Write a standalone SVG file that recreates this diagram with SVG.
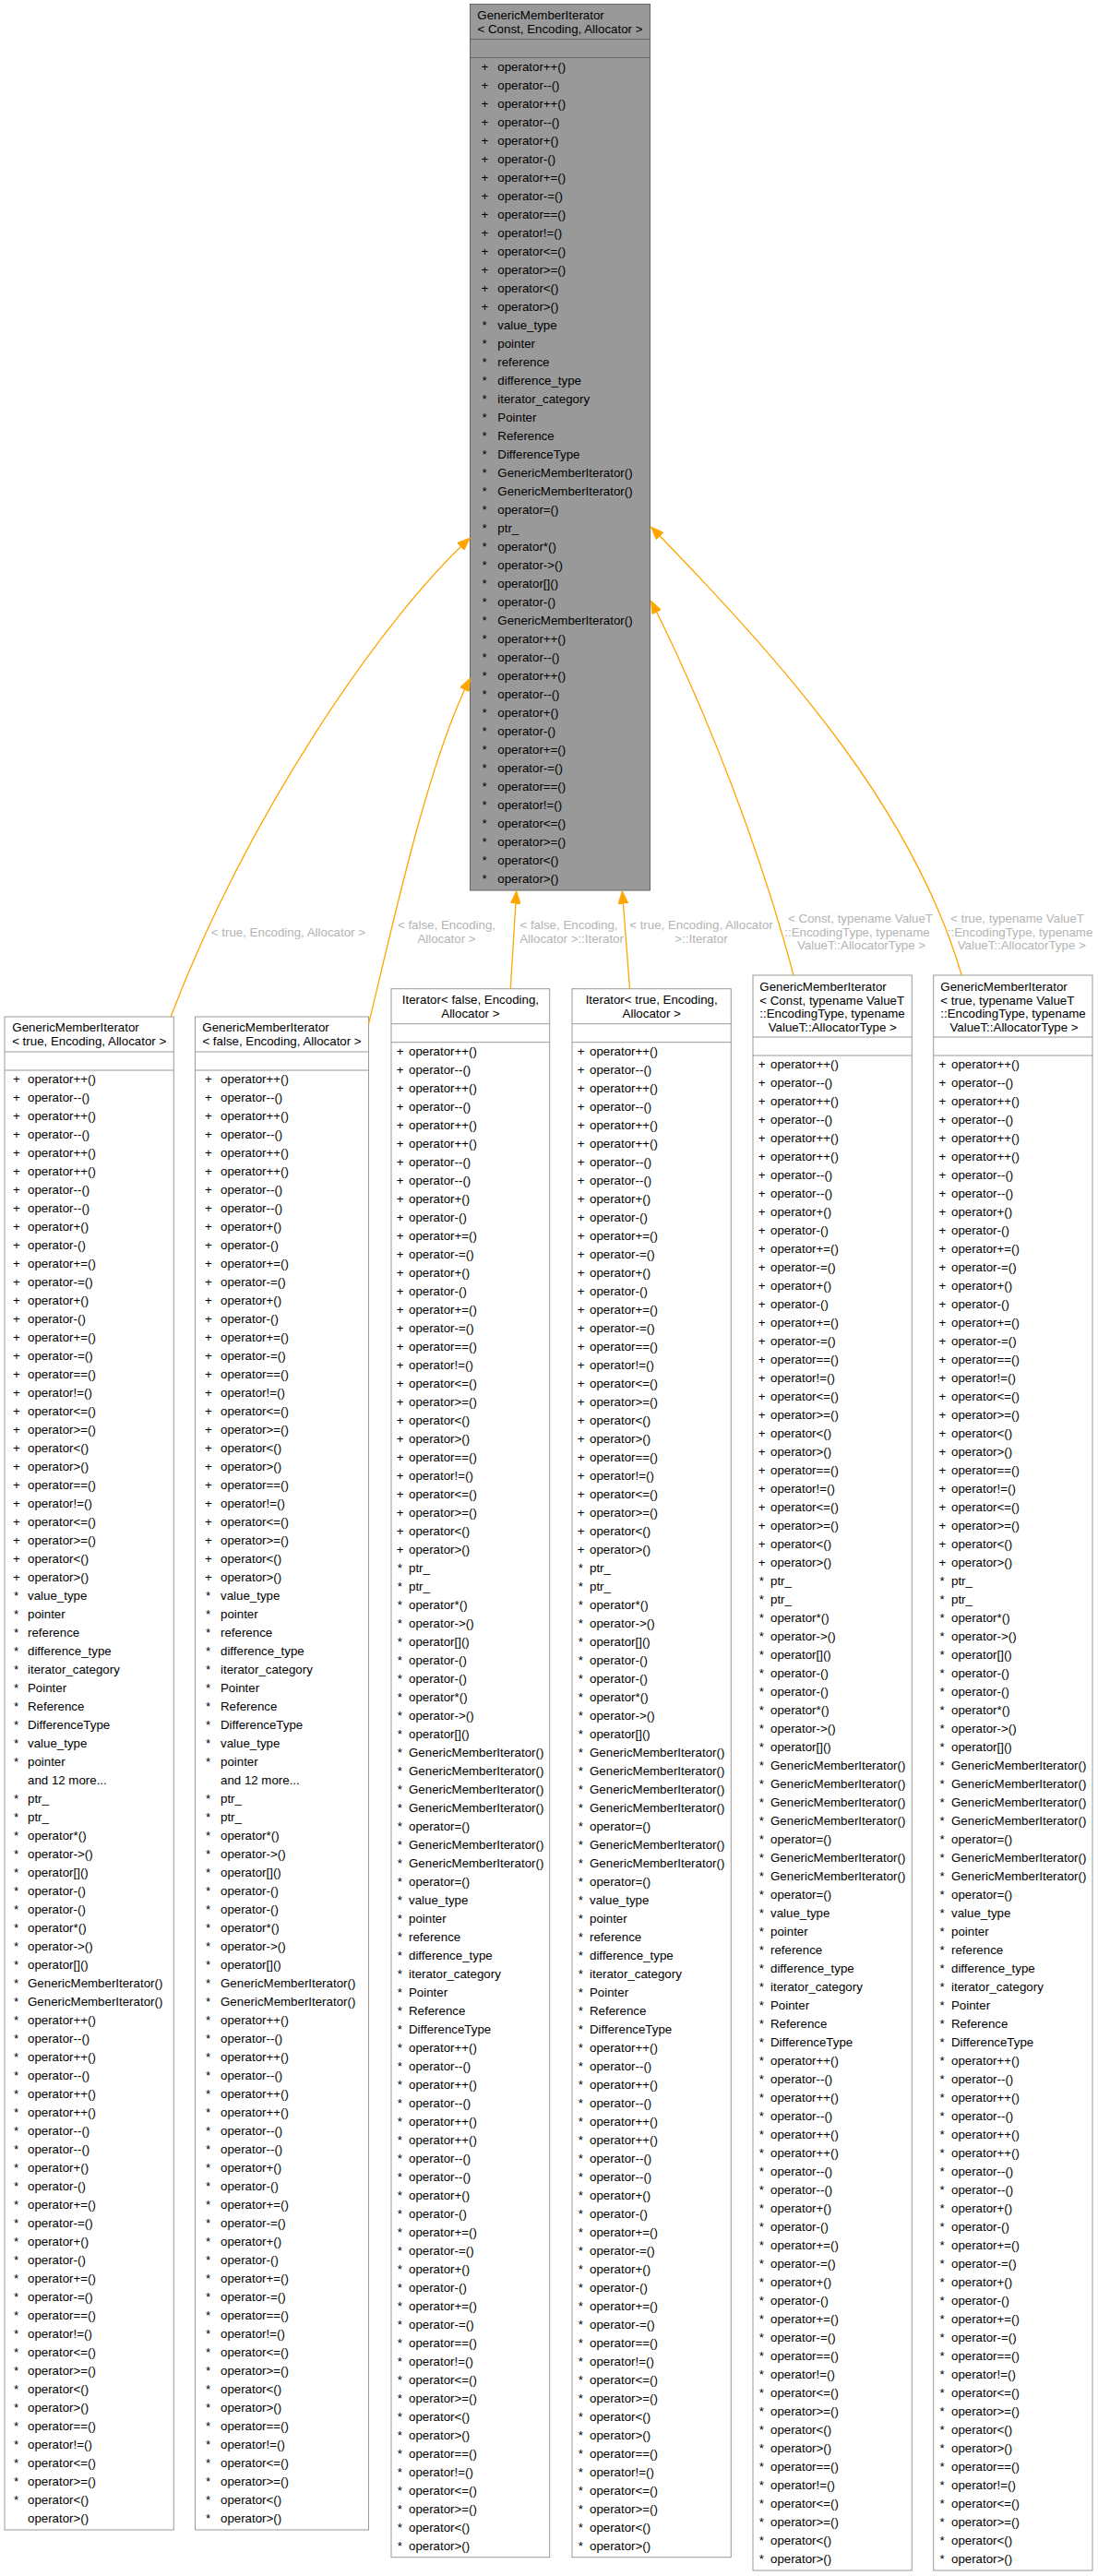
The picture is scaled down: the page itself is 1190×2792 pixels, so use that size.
<svg xmlns="http://www.w3.org/2000/svg" width="1190" height="2792" viewBox="0 0 1190 2792">
<defs>
<style>
.t{font-family:"Liberation Sans",Arial,Helvetica,sans-serif;font-size:13.3px;fill:#000}
.c{text-anchor:middle}
.lbl{font-family:"Liberation Sans",Arial,Helvetica,sans-serif;font-size:13.3px;fill:#b4b4b4;text-anchor:middle}
.box{fill:#fff;stroke:#999;stroke-width:1}
.sep{stroke:#999;stroke-width:1;fill:none}
.e{fill:none;stroke:#ffa500;stroke-width:1.3}
</style>
<marker id="ah" viewBox="0 0 14 11" refX="14" refY="5.5" markerWidth="14" markerHeight="11" markerUnits="userSpaceOnUse" orient="auto">
<path d="M0,0L14,5.5L0,11z" fill="#ffa500" stroke="#ffa500" stroke-width="0.8"/>
</marker>
</defs>
<rect width="1190" height="2792" fill="#fff"/>

<!-- base class template -->
<g id="node-base">
<rect x="509.5" y="4.5" width="195" height="960.5" fill="#999" stroke="#666"/>
<path d="M509.5,42.5H704.5M509.5,62.5H704.5" stroke="#666" fill="none"/>
<text class="t" x="517.3" y="20.5">GenericMemberIterator</text>
<text class="t c" x="607" y="35.5">&lt; Const, Encoding, Allocator &gt;</text>
<text class="t c" y="76.5"><tspan x="525.3">+</tspan><tspan x="525.3" dy="20">+</tspan><tspan x="525.3" dy="20">+</tspan><tspan x="525.3" dy="20">+</tspan><tspan x="525.3" dy="20">+</tspan><tspan x="525.3" dy="20">+</tspan><tspan x="525.3" dy="20">+</tspan><tspan x="525.3" dy="20">+</tspan><tspan x="525.3" dy="20">+</tspan><tspan x="525.3" dy="20">+</tspan><tspan x="525.3" dy="20">+</tspan><tspan x="525.3" dy="20">+</tspan><tspan x="525.3" dy="20">+</tspan><tspan x="525.3" dy="20">+</tspan><tspan x="525" dy="20">*</tspan><tspan x="525" dy="20">*</tspan><tspan x="525" dy="20">*</tspan><tspan x="525" dy="20">*</tspan><tspan x="525" dy="20">*</tspan><tspan x="525" dy="20">*</tspan><tspan x="525" dy="20">*</tspan><tspan x="525" dy="20">*</tspan><tspan x="525" dy="20">*</tspan><tspan x="525" dy="20">*</tspan><tspan x="525" dy="20">*</tspan><tspan x="525" dy="20">*</tspan><tspan x="525" dy="20">*</tspan><tspan x="525" dy="20">*</tspan><tspan x="525" dy="20">*</tspan><tspan x="525" dy="20">*</tspan><tspan x="525" dy="20">*</tspan><tspan x="525" dy="20">*</tspan><tspan x="525" dy="20">*</tspan><tspan x="525" dy="20">*</tspan><tspan x="525" dy="20">*</tspan><tspan x="525" dy="20">*</tspan><tspan x="525" dy="20">*</tspan><tspan x="525" dy="20">*</tspan><tspan x="525" dy="20">*</tspan><tspan x="525" dy="20">*</tspan><tspan x="525" dy="20">*</tspan><tspan x="525" dy="20">*</tspan><tspan x="525" dy="20">*</tspan><tspan x="525" dy="20">*</tspan><tspan x="525" dy="20">*</tspan></text>
<text class="t" y="76.5"><tspan x="539.3">operator++()</tspan><tspan x="539.3" dy="20">operator--()</tspan><tspan x="539.3" dy="20">operator++()</tspan><tspan x="539.3" dy="20">operator--()</tspan><tspan x="539.3" dy="20">operator+()</tspan><tspan x="539.3" dy="20">operator-()</tspan><tspan x="539.3" dy="20">operator+=()</tspan><tspan x="539.3" dy="20">operator-=()</tspan><tspan x="539.3" dy="20">operator==()</tspan><tspan x="539.3" dy="20">operator!=()</tspan><tspan x="539.3" dy="20">operator&lt;=()</tspan><tspan x="539.3" dy="20">operator&gt;=()</tspan><tspan x="539.3" dy="20">operator&lt;()</tspan><tspan x="539.3" dy="20">operator&gt;()</tspan><tspan x="539.3" dy="20">value_type</tspan><tspan x="539.3" dy="20">pointer</tspan><tspan x="539.3" dy="20">reference</tspan><tspan x="539.3" dy="20">difference_type</tspan><tspan x="539.3" dy="20">iterator_category</tspan><tspan x="539.3" dy="20">Pointer</tspan><tspan x="539.3" dy="20">Reference</tspan><tspan x="539.3" dy="20">DifferenceType</tspan><tspan x="539.3" dy="20">GenericMemberIterator()</tspan><tspan x="539.3" dy="20">GenericMemberIterator()</tspan><tspan x="539.3" dy="20">operator=()</tspan><tspan x="539.3" dy="20">ptr_</tspan><tspan x="539.3" dy="20">operator*()</tspan><tspan x="539.3" dy="20">operator-&gt;()</tspan><tspan x="539.3" dy="20">operator[]()</tspan><tspan x="539.3" dy="20">operator-()</tspan><tspan x="539.3" dy="20">GenericMemberIterator()</tspan><tspan x="539.3" dy="20">operator++()</tspan><tspan x="539.3" dy="20">operator--()</tspan><tspan x="539.3" dy="20">operator++()</tspan><tspan x="539.3" dy="20">operator--()</tspan><tspan x="539.3" dy="20">operator+()</tspan><tspan x="539.3" dy="20">operator-()</tspan><tspan x="539.3" dy="20">operator+=()</tspan><tspan x="539.3" dy="20">operator-=()</tspan><tspan x="539.3" dy="20">operator==()</tspan><tspan x="539.3" dy="20">operator!=()</tspan><tspan x="539.3" dy="20">operator&lt;=()</tspan><tspan x="539.3" dy="20">operator&gt;=()</tspan><tspan x="539.3" dy="20">operator&lt;()</tspan><tspan x="539.3" dy="20">operator&gt;()</tspan></text>
</g>

<!-- GenericMemberIterator< true, Encoding, Allocator > -->
<g id="node-true">
<rect class="box" x="5" y="1102" width="183.3" height="1640"/>
<path class="sep" d="M5,1140H188.3M5,1160H188.3"/>
<text class="t" x="13.3" y="1118">GenericMemberIterator</text>
<text class="t c" x="96.7" y="1133">&lt; true, Encoding, Allocator &gt;</text>
<text class="t c" y="1174"><tspan x="17.8">+</tspan><tspan x="17.8" dy="20">+</tspan><tspan x="17.8" dy="20">+</tspan><tspan x="17.8" dy="20">+</tspan><tspan x="17.8" dy="20">+</tspan><tspan x="17.8" dy="20">+</tspan><tspan x="17.8" dy="20">+</tspan><tspan x="17.8" dy="20">+</tspan><tspan x="17.8" dy="20">+</tspan><tspan x="17.8" dy="20">+</tspan><tspan x="17.8" dy="20">+</tspan><tspan x="17.8" dy="20">+</tspan><tspan x="17.8" dy="20">+</tspan><tspan x="17.8" dy="20">+</tspan><tspan x="17.8" dy="20">+</tspan><tspan x="17.8" dy="20">+</tspan><tspan x="17.8" dy="20">+</tspan><tspan x="17.8" dy="20">+</tspan><tspan x="17.8" dy="20">+</tspan><tspan x="17.8" dy="20">+</tspan><tspan x="17.8" dy="20">+</tspan><tspan x="17.8" dy="20">+</tspan><tspan x="17.8" dy="20">+</tspan><tspan x="17.8" dy="20">+</tspan><tspan x="17.8" dy="20">+</tspan><tspan x="17.8" dy="20">+</tspan><tspan x="17.8" dy="20">+</tspan><tspan x="17.8" dy="20">+</tspan><tspan x="17.5" dy="20">*</tspan><tspan x="17.5" dy="20">*</tspan><tspan x="17.5" dy="20">*</tspan><tspan x="17.5" dy="20">*</tspan><tspan x="17.5" dy="20">*</tspan><tspan x="17.5" dy="20">*</tspan><tspan x="17.5" dy="20">*</tspan><tspan x="17.5" dy="20">*</tspan><tspan x="17.5" dy="20">*</tspan><tspan x="17.5" dy="20">*</tspan><tspan x="17.5" dy="40">*</tspan><tspan x="17.5" dy="20">*</tspan><tspan x="17.5" dy="20">*</tspan><tspan x="17.5" dy="20">*</tspan><tspan x="17.5" dy="20">*</tspan><tspan x="17.5" dy="20">*</tspan><tspan x="17.5" dy="20">*</tspan><tspan x="17.5" dy="20">*</tspan><tspan x="17.5" dy="20">*</tspan><tspan x="17.5" dy="20">*</tspan><tspan x="17.5" dy="20">*</tspan><tspan x="17.5" dy="20">*</tspan><tspan x="17.5" dy="20">*</tspan><tspan x="17.5" dy="20">*</tspan><tspan x="17.5" dy="20">*</tspan><tspan x="17.5" dy="20">*</tspan><tspan x="17.5" dy="20">*</tspan><tspan x="17.5" dy="20">*</tspan><tspan x="17.5" dy="20">*</tspan><tspan x="17.5" dy="20">*</tspan><tspan x="17.5" dy="20">*</tspan><tspan x="17.5" dy="20">*</tspan><tspan x="17.5" dy="20">*</tspan><tspan x="17.5" dy="20">*</tspan><tspan x="17.5" dy="20">*</tspan><tspan x="17.5" dy="20">*</tspan><tspan x="17.5" dy="20">*</tspan><tspan x="17.5" dy="20">*</tspan><tspan x="17.5" dy="20">*</tspan><tspan x="17.5" dy="20">*</tspan><tspan x="17.5" dy="20">*</tspan><tspan x="17.5" dy="20">*</tspan><tspan x="17.5" dy="20">*</tspan><tspan x="17.5" dy="20">*</tspan><tspan x="17.5" dy="20">*</tspan><tspan x="17.5" dy="20">*</tspan><tspan x="17.5" dy="20">*</tspan><tspan x="17.5" dy="20">*</tspan><tspan x="17.5" dy="20">*</tspan></text>
<text class="t" y="1174"><tspan x="30">operator++()</tspan><tspan x="30" dy="20">operator--()</tspan><tspan x="30" dy="20">operator++()</tspan><tspan x="30" dy="20">operator--()</tspan><tspan x="30" dy="20">operator++()</tspan><tspan x="30" dy="20">operator++()</tspan><tspan x="30" dy="20">operator--()</tspan><tspan x="30" dy="20">operator--()</tspan><tspan x="30" dy="20">operator+()</tspan><tspan x="30" dy="20">operator-()</tspan><tspan x="30" dy="20">operator+=()</tspan><tspan x="30" dy="20">operator-=()</tspan><tspan x="30" dy="20">operator+()</tspan><tspan x="30" dy="20">operator-()</tspan><tspan x="30" dy="20">operator+=()</tspan><tspan x="30" dy="20">operator-=()</tspan><tspan x="30" dy="20">operator==()</tspan><tspan x="30" dy="20">operator!=()</tspan><tspan x="30" dy="20">operator&lt;=()</tspan><tspan x="30" dy="20">operator&gt;=()</tspan><tspan x="30" dy="20">operator&lt;()</tspan><tspan x="30" dy="20">operator&gt;()</tspan><tspan x="30" dy="20">operator==()</tspan><tspan x="30" dy="20">operator!=()</tspan><tspan x="30" dy="20">operator&lt;=()</tspan><tspan x="30" dy="20">operator&gt;=()</tspan><tspan x="30" dy="20">operator&lt;()</tspan><tspan x="30" dy="20">operator&gt;()</tspan><tspan x="30" dy="20">value_type</tspan><tspan x="30" dy="20">pointer</tspan><tspan x="30" dy="20">reference</tspan><tspan x="30" dy="20">difference_type</tspan><tspan x="30" dy="20">iterator_category</tspan><tspan x="30" dy="20">Pointer</tspan><tspan x="30" dy="20">Reference</tspan><tspan x="30" dy="20">DifferenceType</tspan><tspan x="30" dy="20">value_type</tspan><tspan x="30" dy="20">pointer</tspan><tspan x="30" dy="20">and 12 more...</tspan><tspan x="30" dy="20">ptr_</tspan><tspan x="30" dy="20">ptr_</tspan><tspan x="30" dy="20">operator*()</tspan><tspan x="30" dy="20">operator-&gt;()</tspan><tspan x="30" dy="20">operator[]()</tspan><tspan x="30" dy="20">operator-()</tspan><tspan x="30" dy="20">operator-()</tspan><tspan x="30" dy="20">operator*()</tspan><tspan x="30" dy="20">operator-&gt;()</tspan><tspan x="30" dy="20">operator[]()</tspan><tspan x="30" dy="20">GenericMemberIterator()</tspan><tspan x="30" dy="20">GenericMemberIterator()</tspan><tspan x="30" dy="20">operator++()</tspan><tspan x="30" dy="20">operator--()</tspan><tspan x="30" dy="20">operator++()</tspan><tspan x="30" dy="20">operator--()</tspan><tspan x="30" dy="20">operator++()</tspan><tspan x="30" dy="20">operator++()</tspan><tspan x="30" dy="20">operator--()</tspan><tspan x="30" dy="20">operator--()</tspan><tspan x="30" dy="20">operator+()</tspan><tspan x="30" dy="20">operator-()</tspan><tspan x="30" dy="20">operator+=()</tspan><tspan x="30" dy="20">operator-=()</tspan><tspan x="30" dy="20">operator+()</tspan><tspan x="30" dy="20">operator-()</tspan><tspan x="30" dy="20">operator+=()</tspan><tspan x="30" dy="20">operator-=()</tspan><tspan x="30" dy="20">operator==()</tspan><tspan x="30" dy="20">operator!=()</tspan><tspan x="30" dy="20">operator&lt;=()</tspan><tspan x="30" dy="20">operator&gt;=()</tspan><tspan x="30" dy="20">operator&lt;()</tspan><tspan x="30" dy="20">operator&gt;()</tspan><tspan x="30" dy="20">operator==()</tspan><tspan x="30" dy="20">operator!=()</tspan><tspan x="30" dy="20">operator&lt;=()</tspan><tspan x="30" dy="20">operator&gt;=()</tspan><tspan x="30" dy="20">operator&lt;()</tspan><tspan x="30" dy="20">operator&gt;()</tspan></text>
</g>

<!-- GenericMemberIterator< false, Encoding, Allocator > -->
<g id="node-false">
<rect class="box" x="211.5" y="1102" width="188" height="1640"/>
<path class="sep" d="M211.5,1140H399.5M211.5,1160H399.5"/>
<text class="t" x="219.3" y="1118">GenericMemberIterator</text>
<text class="t c" x="305.5" y="1133">&lt; false, Encoding, Allocator &gt;</text>
<text class="t c" y="1174"><tspan x="226">+</tspan><tspan x="226" dy="20">+</tspan><tspan x="226" dy="20">+</tspan><tspan x="226" dy="20">+</tspan><tspan x="226" dy="20">+</tspan><tspan x="226" dy="20">+</tspan><tspan x="226" dy="20">+</tspan><tspan x="226" dy="20">+</tspan><tspan x="226" dy="20">+</tspan><tspan x="226" dy="20">+</tspan><tspan x="226" dy="20">+</tspan><tspan x="226" dy="20">+</tspan><tspan x="226" dy="20">+</tspan><tspan x="226" dy="20">+</tspan><tspan x="226" dy="20">+</tspan><tspan x="226" dy="20">+</tspan><tspan x="226" dy="20">+</tspan><tspan x="226" dy="20">+</tspan><tspan x="226" dy="20">+</tspan><tspan x="226" dy="20">+</tspan><tspan x="226" dy="20">+</tspan><tspan x="226" dy="20">+</tspan><tspan x="226" dy="20">+</tspan><tspan x="226" dy="20">+</tspan><tspan x="226" dy="20">+</tspan><tspan x="226" dy="20">+</tspan><tspan x="226" dy="20">+</tspan><tspan x="226" dy="20">+</tspan><tspan x="225.7" dy="20">*</tspan><tspan x="225.7" dy="20">*</tspan><tspan x="225.7" dy="20">*</tspan><tspan x="225.7" dy="20">*</tspan><tspan x="225.7" dy="20">*</tspan><tspan x="225.7" dy="20">*</tspan><tspan x="225.7" dy="20">*</tspan><tspan x="225.7" dy="20">*</tspan><tspan x="225.7" dy="20">*</tspan><tspan x="225.7" dy="20">*</tspan><tspan x="225.7" dy="40">*</tspan><tspan x="225.7" dy="20">*</tspan><tspan x="225.7" dy="20">*</tspan><tspan x="225.7" dy="20">*</tspan><tspan x="225.7" dy="20">*</tspan><tspan x="225.7" dy="20">*</tspan><tspan x="225.7" dy="20">*</tspan><tspan x="225.7" dy="20">*</tspan><tspan x="225.7" dy="20">*</tspan><tspan x="225.7" dy="20">*</tspan><tspan x="225.7" dy="20">*</tspan><tspan x="225.7" dy="20">*</tspan><tspan x="225.7" dy="20">*</tspan><tspan x="225.7" dy="20">*</tspan><tspan x="225.7" dy="20">*</tspan><tspan x="225.7" dy="20">*</tspan><tspan x="225.7" dy="20">*</tspan><tspan x="225.7" dy="20">*</tspan><tspan x="225.7" dy="20">*</tspan><tspan x="225.7" dy="20">*</tspan><tspan x="225.7" dy="20">*</tspan><tspan x="225.7" dy="20">*</tspan><tspan x="225.7" dy="20">*</tspan><tspan x="225.7" dy="20">*</tspan><tspan x="225.7" dy="20">*</tspan><tspan x="225.7" dy="20">*</tspan><tspan x="225.7" dy="20">*</tspan><tspan x="225.7" dy="20">*</tspan><tspan x="225.7" dy="20">*</tspan><tspan x="225.7" dy="20">*</tspan><tspan x="225.7" dy="20">*</tspan><tspan x="225.7" dy="20">*</tspan><tspan x="225.7" dy="20">*</tspan><tspan x="225.7" dy="20">*</tspan><tspan x="225.7" dy="20">*</tspan><tspan x="225.7" dy="20">*</tspan><tspan x="225.7" dy="20">*</tspan><tspan x="225.7" dy="20">*</tspan><tspan x="225.7" dy="20">*</tspan><tspan x="225.7" dy="20">*</tspan></text>
<text class="t" y="1174"><tspan x="239">operator++()</tspan><tspan x="239" dy="20">operator--()</tspan><tspan x="239" dy="20">operator++()</tspan><tspan x="239" dy="20">operator--()</tspan><tspan x="239" dy="20">operator++()</tspan><tspan x="239" dy="20">operator++()</tspan><tspan x="239" dy="20">operator--()</tspan><tspan x="239" dy="20">operator--()</tspan><tspan x="239" dy="20">operator+()</tspan><tspan x="239" dy="20">operator-()</tspan><tspan x="239" dy="20">operator+=()</tspan><tspan x="239" dy="20">operator-=()</tspan><tspan x="239" dy="20">operator+()</tspan><tspan x="239" dy="20">operator-()</tspan><tspan x="239" dy="20">operator+=()</tspan><tspan x="239" dy="20">operator-=()</tspan><tspan x="239" dy="20">operator==()</tspan><tspan x="239" dy="20">operator!=()</tspan><tspan x="239" dy="20">operator&lt;=()</tspan><tspan x="239" dy="20">operator&gt;=()</tspan><tspan x="239" dy="20">operator&lt;()</tspan><tspan x="239" dy="20">operator&gt;()</tspan><tspan x="239" dy="20">operator==()</tspan><tspan x="239" dy="20">operator!=()</tspan><tspan x="239" dy="20">operator&lt;=()</tspan><tspan x="239" dy="20">operator&gt;=()</tspan><tspan x="239" dy="20">operator&lt;()</tspan><tspan x="239" dy="20">operator&gt;()</tspan><tspan x="239" dy="20">value_type</tspan><tspan x="239" dy="20">pointer</tspan><tspan x="239" dy="20">reference</tspan><tspan x="239" dy="20">difference_type</tspan><tspan x="239" dy="20">iterator_category</tspan><tspan x="239" dy="20">Pointer</tspan><tspan x="239" dy="20">Reference</tspan><tspan x="239" dy="20">DifferenceType</tspan><tspan x="239" dy="20">value_type</tspan><tspan x="239" dy="20">pointer</tspan><tspan x="239" dy="20">and 12 more...</tspan><tspan x="239" dy="20">ptr_</tspan><tspan x="239" dy="20">ptr_</tspan><tspan x="239" dy="20">operator*()</tspan><tspan x="239" dy="20">operator-&gt;()</tspan><tspan x="239" dy="20">operator[]()</tspan><tspan x="239" dy="20">operator-()</tspan><tspan x="239" dy="20">operator-()</tspan><tspan x="239" dy="20">operator*()</tspan><tspan x="239" dy="20">operator-&gt;()</tspan><tspan x="239" dy="20">operator[]()</tspan><tspan x="239" dy="20">GenericMemberIterator()</tspan><tspan x="239" dy="20">GenericMemberIterator()</tspan><tspan x="239" dy="20">operator++()</tspan><tspan x="239" dy="20">operator--()</tspan><tspan x="239" dy="20">operator++()</tspan><tspan x="239" dy="20">operator--()</tspan><tspan x="239" dy="20">operator++()</tspan><tspan x="239" dy="20">operator++()</tspan><tspan x="239" dy="20">operator--()</tspan><tspan x="239" dy="20">operator--()</tspan><tspan x="239" dy="20">operator+()</tspan><tspan x="239" dy="20">operator-()</tspan><tspan x="239" dy="20">operator+=()</tspan><tspan x="239" dy="20">operator-=()</tspan><tspan x="239" dy="20">operator+()</tspan><tspan x="239" dy="20">operator-()</tspan><tspan x="239" dy="20">operator+=()</tspan><tspan x="239" dy="20">operator-=()</tspan><tspan x="239" dy="20">operator==()</tspan><tspan x="239" dy="20">operator!=()</tspan><tspan x="239" dy="20">operator&lt;=()</tspan><tspan x="239" dy="20">operator&gt;=()</tspan><tspan x="239" dy="20">operator&lt;()</tspan><tspan x="239" dy="20">operator&gt;()</tspan><tspan x="239" dy="20">operator==()</tspan><tspan x="239" dy="20">operator!=()</tspan><tspan x="239" dy="20">operator&lt;=()</tspan><tspan x="239" dy="20">operator&gt;=()</tspan><tspan x="239" dy="20">operator&lt;()</tspan><tspan x="239" dy="20">operator&gt;()</tspan></text>
</g>

<!-- Iterator< false, Encoding, Allocator > -->
<g id="node-iter-false">
<rect class="box" x="424" y="1071.7" width="171.7" height="1700"/>
<path class="sep" d="M424,1109.7H595.7M424,1129.7H595.7"/>
<text class="t c" x="509.9" y="1087.7">Iterator&lt; false, Encoding,</text>
<text class="t c" x="509.9" y="1102.7">Allocator &gt;</text>
<text class="t c" y="1143.7"><tspan x="433.7">+</tspan><tspan x="433.7" dy="20">+</tspan><tspan x="433.7" dy="20">+</tspan><tspan x="433.7" dy="20">+</tspan><tspan x="433.7" dy="20">+</tspan><tspan x="433.7" dy="20">+</tspan><tspan x="433.7" dy="20">+</tspan><tspan x="433.7" dy="20">+</tspan><tspan x="433.7" dy="20">+</tspan><tspan x="433.7" dy="20">+</tspan><tspan x="433.7" dy="20">+</tspan><tspan x="433.7" dy="20">+</tspan><tspan x="433.7" dy="20">+</tspan><tspan x="433.7" dy="20">+</tspan><tspan x="433.7" dy="20">+</tspan><tspan x="433.7" dy="20">+</tspan><tspan x="433.7" dy="20">+</tspan><tspan x="433.7" dy="20">+</tspan><tspan x="433.7" dy="20">+</tspan><tspan x="433.7" dy="20">+</tspan><tspan x="433.7" dy="20">+</tspan><tspan x="433.7" dy="20">+</tspan><tspan x="433.7" dy="20">+</tspan><tspan x="433.7" dy="20">+</tspan><tspan x="433.7" dy="20">+</tspan><tspan x="433.7" dy="20">+</tspan><tspan x="433.7" dy="20">+</tspan><tspan x="433.7" dy="20">+</tspan><tspan x="433.3" dy="20">*</tspan><tspan x="433.3" dy="20">*</tspan><tspan x="433.3" dy="20">*</tspan><tspan x="433.3" dy="20">*</tspan><tspan x="433.3" dy="20">*</tspan><tspan x="433.3" dy="20">*</tspan><tspan x="433.3" dy="20">*</tspan><tspan x="433.3" dy="20">*</tspan><tspan x="433.3" dy="20">*</tspan><tspan x="433.3" dy="20">*</tspan><tspan x="433.3" dy="20">*</tspan><tspan x="433.3" dy="20">*</tspan><tspan x="433.3" dy="20">*</tspan><tspan x="433.3" dy="20">*</tspan><tspan x="433.3" dy="20">*</tspan><tspan x="433.3" dy="20">*</tspan><tspan x="433.3" dy="20">*</tspan><tspan x="433.3" dy="20">*</tspan><tspan x="433.3" dy="20">*</tspan><tspan x="433.3" dy="20">*</tspan><tspan x="433.3" dy="20">*</tspan><tspan x="433.3" dy="20">*</tspan><tspan x="433.3" dy="20">*</tspan><tspan x="433.3" dy="20">*</tspan><tspan x="433.3" dy="20">*</tspan><tspan x="433.3" dy="20">*</tspan><tspan x="433.3" dy="20">*</tspan><tspan x="433.3" dy="20">*</tspan><tspan x="433.3" dy="20">*</tspan><tspan x="433.3" dy="20">*</tspan><tspan x="433.3" dy="20">*</tspan><tspan x="433.3" dy="20">*</tspan><tspan x="433.3" dy="20">*</tspan><tspan x="433.3" dy="20">*</tspan><tspan x="433.3" dy="20">*</tspan><tspan x="433.3" dy="20">*</tspan><tspan x="433.3" dy="20">*</tspan><tspan x="433.3" dy="20">*</tspan><tspan x="433.3" dy="20">*</tspan><tspan x="433.3" dy="20">*</tspan><tspan x="433.3" dy="20">*</tspan><tspan x="433.3" dy="20">*</tspan><tspan x="433.3" dy="20">*</tspan><tspan x="433.3" dy="20">*</tspan><tspan x="433.3" dy="20">*</tspan><tspan x="433.3" dy="20">*</tspan><tspan x="433.3" dy="20">*</tspan><tspan x="433.3" dy="20">*</tspan><tspan x="433.3" dy="20">*</tspan><tspan x="433.3" dy="20">*</tspan><tspan x="433.3" dy="20">*</tspan><tspan x="433.3" dy="20">*</tspan><tspan x="433.3" dy="20">*</tspan><tspan x="433.3" dy="20">*</tspan></text>
<text class="t" y="1143.7"><tspan x="443">operator++()</tspan><tspan x="443" dy="20">operator--()</tspan><tspan x="443" dy="20">operator++()</tspan><tspan x="443" dy="20">operator--()</tspan><tspan x="443" dy="20">operator++()</tspan><tspan x="443" dy="20">operator++()</tspan><tspan x="443" dy="20">operator--()</tspan><tspan x="443" dy="20">operator--()</tspan><tspan x="443" dy="20">operator+()</tspan><tspan x="443" dy="20">operator-()</tspan><tspan x="443" dy="20">operator+=()</tspan><tspan x="443" dy="20">operator-=()</tspan><tspan x="443" dy="20">operator+()</tspan><tspan x="443" dy="20">operator-()</tspan><tspan x="443" dy="20">operator+=()</tspan><tspan x="443" dy="20">operator-=()</tspan><tspan x="443" dy="20">operator==()</tspan><tspan x="443" dy="20">operator!=()</tspan><tspan x="443" dy="20">operator&lt;=()</tspan><tspan x="443" dy="20">operator&gt;=()</tspan><tspan x="443" dy="20">operator&lt;()</tspan><tspan x="443" dy="20">operator&gt;()</tspan><tspan x="443" dy="20">operator==()</tspan><tspan x="443" dy="20">operator!=()</tspan><tspan x="443" dy="20">operator&lt;=()</tspan><tspan x="443" dy="20">operator&gt;=()</tspan><tspan x="443" dy="20">operator&lt;()</tspan><tspan x="443" dy="20">operator&gt;()</tspan><tspan x="443" dy="20">ptr_</tspan><tspan x="443" dy="20">ptr_</tspan><tspan x="443" dy="20">operator*()</tspan><tspan x="443" dy="20">operator-&gt;()</tspan><tspan x="443" dy="20">operator[]()</tspan><tspan x="443" dy="20">operator-()</tspan><tspan x="443" dy="20">operator-()</tspan><tspan x="443" dy="20">operator*()</tspan><tspan x="443" dy="20">operator-&gt;()</tspan><tspan x="443" dy="20">operator[]()</tspan><tspan x="443" dy="20">GenericMemberIterator()</tspan><tspan x="443" dy="20">GenericMemberIterator()</tspan><tspan x="443" dy="20">GenericMemberIterator()</tspan><tspan x="443" dy="20">GenericMemberIterator()</tspan><tspan x="443" dy="20">operator=()</tspan><tspan x="443" dy="20">GenericMemberIterator()</tspan><tspan x="443" dy="20">GenericMemberIterator()</tspan><tspan x="443" dy="20">operator=()</tspan><tspan x="443" dy="20">value_type</tspan><tspan x="443" dy="20">pointer</tspan><tspan x="443" dy="20">reference</tspan><tspan x="443" dy="20">difference_type</tspan><tspan x="443" dy="20">iterator_category</tspan><tspan x="443" dy="20">Pointer</tspan><tspan x="443" dy="20">Reference</tspan><tspan x="443" dy="20">DifferenceType</tspan><tspan x="443" dy="20">operator++()</tspan><tspan x="443" dy="20">operator--()</tspan><tspan x="443" dy="20">operator++()</tspan><tspan x="443" dy="20">operator--()</tspan><tspan x="443" dy="20">operator++()</tspan><tspan x="443" dy="20">operator++()</tspan><tspan x="443" dy="20">operator--()</tspan><tspan x="443" dy="20">operator--()</tspan><tspan x="443" dy="20">operator+()</tspan><tspan x="443" dy="20">operator-()</tspan><tspan x="443" dy="20">operator+=()</tspan><tspan x="443" dy="20">operator-=()</tspan><tspan x="443" dy="20">operator+()</tspan><tspan x="443" dy="20">operator-()</tspan><tspan x="443" dy="20">operator+=()</tspan><tspan x="443" dy="20">operator-=()</tspan><tspan x="443" dy="20">operator==()</tspan><tspan x="443" dy="20">operator!=()</tspan><tspan x="443" dy="20">operator&lt;=()</tspan><tspan x="443" dy="20">operator&gt;=()</tspan><tspan x="443" dy="20">operator&lt;()</tspan><tspan x="443" dy="20">operator&gt;()</tspan><tspan x="443" dy="20">operator==()</tspan><tspan x="443" dy="20">operator!=()</tspan><tspan x="443" dy="20">operator&lt;=()</tspan><tspan x="443" dy="20">operator&gt;=()</tspan><tspan x="443" dy="20">operator&lt;()</tspan><tspan x="443" dy="20">operator&gt;()</tspan></text>
</g>

<!-- Iterator< true, Encoding, Allocator > -->
<g id="node-iter-true">
<rect class="box" x="620" y="1071.7" width="172.3" height="1700"/>
<path class="sep" d="M620,1109.7H792.3M620,1129.7H792.3"/>
<text class="t c" x="706.2" y="1087.7">Iterator&lt; true, Encoding,</text>
<text class="t c" x="706.2" y="1102.7">Allocator &gt;</text>
<text class="t c" y="1143.7"><tspan x="629.7">+</tspan><tspan x="629.7" dy="20">+</tspan><tspan x="629.7" dy="20">+</tspan><tspan x="629.7" dy="20">+</tspan><tspan x="629.7" dy="20">+</tspan><tspan x="629.7" dy="20">+</tspan><tspan x="629.7" dy="20">+</tspan><tspan x="629.7" dy="20">+</tspan><tspan x="629.7" dy="20">+</tspan><tspan x="629.7" dy="20">+</tspan><tspan x="629.7" dy="20">+</tspan><tspan x="629.7" dy="20">+</tspan><tspan x="629.7" dy="20">+</tspan><tspan x="629.7" dy="20">+</tspan><tspan x="629.7" dy="20">+</tspan><tspan x="629.7" dy="20">+</tspan><tspan x="629.7" dy="20">+</tspan><tspan x="629.7" dy="20">+</tspan><tspan x="629.7" dy="20">+</tspan><tspan x="629.7" dy="20">+</tspan><tspan x="629.7" dy="20">+</tspan><tspan x="629.7" dy="20">+</tspan><tspan x="629.7" dy="20">+</tspan><tspan x="629.7" dy="20">+</tspan><tspan x="629.7" dy="20">+</tspan><tspan x="629.7" dy="20">+</tspan><tspan x="629.7" dy="20">+</tspan><tspan x="629.7" dy="20">+</tspan><tspan x="629.3" dy="20">*</tspan><tspan x="629.3" dy="20">*</tspan><tspan x="629.3" dy="20">*</tspan><tspan x="629.3" dy="20">*</tspan><tspan x="629.3" dy="20">*</tspan><tspan x="629.3" dy="20">*</tspan><tspan x="629.3" dy="20">*</tspan><tspan x="629.3" dy="20">*</tspan><tspan x="629.3" dy="20">*</tspan><tspan x="629.3" dy="20">*</tspan><tspan x="629.3" dy="20">*</tspan><tspan x="629.3" dy="20">*</tspan><tspan x="629.3" dy="20">*</tspan><tspan x="629.3" dy="20">*</tspan><tspan x="629.3" dy="20">*</tspan><tspan x="629.3" dy="20">*</tspan><tspan x="629.3" dy="20">*</tspan><tspan x="629.3" dy="20">*</tspan><tspan x="629.3" dy="20">*</tspan><tspan x="629.3" dy="20">*</tspan><tspan x="629.3" dy="20">*</tspan><tspan x="629.3" dy="20">*</tspan><tspan x="629.3" dy="20">*</tspan><tspan x="629.3" dy="20">*</tspan><tspan x="629.3" dy="20">*</tspan><tspan x="629.3" dy="20">*</tspan><tspan x="629.3" dy="20">*</tspan><tspan x="629.3" dy="20">*</tspan><tspan x="629.3" dy="20">*</tspan><tspan x="629.3" dy="20">*</tspan><tspan x="629.3" dy="20">*</tspan><tspan x="629.3" dy="20">*</tspan><tspan x="629.3" dy="20">*</tspan><tspan x="629.3" dy="20">*</tspan><tspan x="629.3" dy="20">*</tspan><tspan x="629.3" dy="20">*</tspan><tspan x="629.3" dy="20">*</tspan><tspan x="629.3" dy="20">*</tspan><tspan x="629.3" dy="20">*</tspan><tspan x="629.3" dy="20">*</tspan><tspan x="629.3" dy="20">*</tspan><tspan x="629.3" dy="20">*</tspan><tspan x="629.3" dy="20">*</tspan><tspan x="629.3" dy="20">*</tspan><tspan x="629.3" dy="20">*</tspan><tspan x="629.3" dy="20">*</tspan><tspan x="629.3" dy="20">*</tspan><tspan x="629.3" dy="20">*</tspan><tspan x="629.3" dy="20">*</tspan><tspan x="629.3" dy="20">*</tspan><tspan x="629.3" dy="20">*</tspan><tspan x="629.3" dy="20">*</tspan><tspan x="629.3" dy="20">*</tspan><tspan x="629.3" dy="20">*</tspan></text>
<text class="t" y="1143.7"><tspan x="639">operator++()</tspan><tspan x="639" dy="20">operator--()</tspan><tspan x="639" dy="20">operator++()</tspan><tspan x="639" dy="20">operator--()</tspan><tspan x="639" dy="20">operator++()</tspan><tspan x="639" dy="20">operator++()</tspan><tspan x="639" dy="20">operator--()</tspan><tspan x="639" dy="20">operator--()</tspan><tspan x="639" dy="20">operator+()</tspan><tspan x="639" dy="20">operator-()</tspan><tspan x="639" dy="20">operator+=()</tspan><tspan x="639" dy="20">operator-=()</tspan><tspan x="639" dy="20">operator+()</tspan><tspan x="639" dy="20">operator-()</tspan><tspan x="639" dy="20">operator+=()</tspan><tspan x="639" dy="20">operator-=()</tspan><tspan x="639" dy="20">operator==()</tspan><tspan x="639" dy="20">operator!=()</tspan><tspan x="639" dy="20">operator&lt;=()</tspan><tspan x="639" dy="20">operator&gt;=()</tspan><tspan x="639" dy="20">operator&lt;()</tspan><tspan x="639" dy="20">operator&gt;()</tspan><tspan x="639" dy="20">operator==()</tspan><tspan x="639" dy="20">operator!=()</tspan><tspan x="639" dy="20">operator&lt;=()</tspan><tspan x="639" dy="20">operator&gt;=()</tspan><tspan x="639" dy="20">operator&lt;()</tspan><tspan x="639" dy="20">operator&gt;()</tspan><tspan x="639" dy="20">ptr_</tspan><tspan x="639" dy="20">ptr_</tspan><tspan x="639" dy="20">operator*()</tspan><tspan x="639" dy="20">operator-&gt;()</tspan><tspan x="639" dy="20">operator[]()</tspan><tspan x="639" dy="20">operator-()</tspan><tspan x="639" dy="20">operator-()</tspan><tspan x="639" dy="20">operator*()</tspan><tspan x="639" dy="20">operator-&gt;()</tspan><tspan x="639" dy="20">operator[]()</tspan><tspan x="639" dy="20">GenericMemberIterator()</tspan><tspan x="639" dy="20">GenericMemberIterator()</tspan><tspan x="639" dy="20">GenericMemberIterator()</tspan><tspan x="639" dy="20">GenericMemberIterator()</tspan><tspan x="639" dy="20">operator=()</tspan><tspan x="639" dy="20">GenericMemberIterator()</tspan><tspan x="639" dy="20">GenericMemberIterator()</tspan><tspan x="639" dy="20">operator=()</tspan><tspan x="639" dy="20">value_type</tspan><tspan x="639" dy="20">pointer</tspan><tspan x="639" dy="20">reference</tspan><tspan x="639" dy="20">difference_type</tspan><tspan x="639" dy="20">iterator_category</tspan><tspan x="639" dy="20">Pointer</tspan><tspan x="639" dy="20">Reference</tspan><tspan x="639" dy="20">DifferenceType</tspan><tspan x="639" dy="20">operator++()</tspan><tspan x="639" dy="20">operator--()</tspan><tspan x="639" dy="20">operator++()</tspan><tspan x="639" dy="20">operator--()</tspan><tspan x="639" dy="20">operator++()</tspan><tspan x="639" dy="20">operator++()</tspan><tspan x="639" dy="20">operator--()</tspan><tspan x="639" dy="20">operator--()</tspan><tspan x="639" dy="20">operator+()</tspan><tspan x="639" dy="20">operator-()</tspan><tspan x="639" dy="20">operator+=()</tspan><tspan x="639" dy="20">operator-=()</tspan><tspan x="639" dy="20">operator+()</tspan><tspan x="639" dy="20">operator-()</tspan><tspan x="639" dy="20">operator+=()</tspan><tspan x="639" dy="20">operator-=()</tspan><tspan x="639" dy="20">operator==()</tspan><tspan x="639" dy="20">operator!=()</tspan><tspan x="639" dy="20">operator&lt;=()</tspan><tspan x="639" dy="20">operator&gt;=()</tspan><tspan x="639" dy="20">operator&lt;()</tspan><tspan x="639" dy="20">operator&gt;()</tspan><tspan x="639" dy="20">operator==()</tspan><tspan x="639" dy="20">operator!=()</tspan><tspan x="639" dy="20">operator&lt;=()</tspan><tspan x="639" dy="20">operator&gt;=()</tspan><tspan x="639" dy="20">operator&lt;()</tspan><tspan x="639" dy="20">operator&gt;()</tspan></text>
</g>

<!-- GenericMemberIterator< Const, typename ValueT::EncodingType, typename ValueT::AllocatorType > -->
<g id="node-const-valuet">
<rect class="box" x="816" y="1057" width="172.3" height="1729"/>
<path class="sep" d="M816,1124H988.3M816,1144H988.3"/>
<text class="t" x="823.3" y="1073.5">GenericMemberIterator</text>
<text class="t" x="823.3" y="1088.5">&lt; Const, typename ValueT</text>
<text class="t" x="823.3" y="1103">::EncodingType, typename</text>
<text class="t c" x="902.2" y="1117.5">ValueT::AllocatorType &gt;</text>
<text class="t c" y="1158"><tspan x="825.7">+</tspan><tspan x="825.7" dy="20">+</tspan><tspan x="825.7" dy="20">+</tspan><tspan x="825.7" dy="20">+</tspan><tspan x="825.7" dy="20">+</tspan><tspan x="825.7" dy="20">+</tspan><tspan x="825.7" dy="20">+</tspan><tspan x="825.7" dy="20">+</tspan><tspan x="825.7" dy="20">+</tspan><tspan x="825.7" dy="20">+</tspan><tspan x="825.7" dy="20">+</tspan><tspan x="825.7" dy="20">+</tspan><tspan x="825.7" dy="20">+</tspan><tspan x="825.7" dy="20">+</tspan><tspan x="825.7" dy="20">+</tspan><tspan x="825.7" dy="20">+</tspan><tspan x="825.7" dy="20">+</tspan><tspan x="825.7" dy="20">+</tspan><tspan x="825.7" dy="20">+</tspan><tspan x="825.7" dy="20">+</tspan><tspan x="825.7" dy="20">+</tspan><tspan x="825.7" dy="20">+</tspan><tspan x="825.7" dy="20">+</tspan><tspan x="825.7" dy="20">+</tspan><tspan x="825.7" dy="20">+</tspan><tspan x="825.7" dy="20">+</tspan><tspan x="825.7" dy="20">+</tspan><tspan x="825.7" dy="20">+</tspan><tspan x="825.3" dy="20">*</tspan><tspan x="825.3" dy="20">*</tspan><tspan x="825.3" dy="20">*</tspan><tspan x="825.3" dy="20">*</tspan><tspan x="825.3" dy="20">*</tspan><tspan x="825.3" dy="20">*</tspan><tspan x="825.3" dy="20">*</tspan><tspan x="825.3" dy="20">*</tspan><tspan x="825.3" dy="20">*</tspan><tspan x="825.3" dy="20">*</tspan><tspan x="825.3" dy="20">*</tspan><tspan x="825.3" dy="20">*</tspan><tspan x="825.3" dy="20">*</tspan><tspan x="825.3" dy="20">*</tspan><tspan x="825.3" dy="20">*</tspan><tspan x="825.3" dy="20">*</tspan><tspan x="825.3" dy="20">*</tspan><tspan x="825.3" dy="20">*</tspan><tspan x="825.3" dy="20">*</tspan><tspan x="825.3" dy="20">*</tspan><tspan x="825.3" dy="20">*</tspan><tspan x="825.3" dy="20">*</tspan><tspan x="825.3" dy="20">*</tspan><tspan x="825.3" dy="20">*</tspan><tspan x="825.3" dy="20">*</tspan><tspan x="825.3" dy="20">*</tspan><tspan x="825.3" dy="20">*</tspan><tspan x="825.3" dy="20">*</tspan><tspan x="825.3" dy="20">*</tspan><tspan x="825.3" dy="20">*</tspan><tspan x="825.3" dy="20">*</tspan><tspan x="825.3" dy="20">*</tspan><tspan x="825.3" dy="20">*</tspan><tspan x="825.3" dy="20">*</tspan><tspan x="825.3" dy="20">*</tspan><tspan x="825.3" dy="20">*</tspan><tspan x="825.3" dy="20">*</tspan><tspan x="825.3" dy="20">*</tspan><tspan x="825.3" dy="20">*</tspan><tspan x="825.3" dy="20">*</tspan><tspan x="825.3" dy="20">*</tspan><tspan x="825.3" dy="20">*</tspan><tspan x="825.3" dy="20">*</tspan><tspan x="825.3" dy="20">*</tspan><tspan x="825.3" dy="20">*</tspan><tspan x="825.3" dy="20">*</tspan><tspan x="825.3" dy="20">*</tspan><tspan x="825.3" dy="20">*</tspan><tspan x="825.3" dy="20">*</tspan><tspan x="825.3" dy="20">*</tspan><tspan x="825.3" dy="20">*</tspan><tspan x="825.3" dy="20">*</tspan><tspan x="825.3" dy="20">*</tspan><tspan x="825.3" dy="20">*</tspan></text>
<text class="t" y="1158"><tspan x="835">operator++()</tspan><tspan x="835" dy="20">operator--()</tspan><tspan x="835" dy="20">operator++()</tspan><tspan x="835" dy="20">operator--()</tspan><tspan x="835" dy="20">operator++()</tspan><tspan x="835" dy="20">operator++()</tspan><tspan x="835" dy="20">operator--()</tspan><tspan x="835" dy="20">operator--()</tspan><tspan x="835" dy="20">operator+()</tspan><tspan x="835" dy="20">operator-()</tspan><tspan x="835" dy="20">operator+=()</tspan><tspan x="835" dy="20">operator-=()</tspan><tspan x="835" dy="20">operator+()</tspan><tspan x="835" dy="20">operator-()</tspan><tspan x="835" dy="20">operator+=()</tspan><tspan x="835" dy="20">operator-=()</tspan><tspan x="835" dy="20">operator==()</tspan><tspan x="835" dy="20">operator!=()</tspan><tspan x="835" dy="20">operator&lt;=()</tspan><tspan x="835" dy="20">operator&gt;=()</tspan><tspan x="835" dy="20">operator&lt;()</tspan><tspan x="835" dy="20">operator&gt;()</tspan><tspan x="835" dy="20">operator==()</tspan><tspan x="835" dy="20">operator!=()</tspan><tspan x="835" dy="20">operator&lt;=()</tspan><tspan x="835" dy="20">operator&gt;=()</tspan><tspan x="835" dy="20">operator&lt;()</tspan><tspan x="835" dy="20">operator&gt;()</tspan><tspan x="835" dy="20">ptr_</tspan><tspan x="835" dy="20">ptr_</tspan><tspan x="835" dy="20">operator*()</tspan><tspan x="835" dy="20">operator-&gt;()</tspan><tspan x="835" dy="20">operator[]()</tspan><tspan x="835" dy="20">operator-()</tspan><tspan x="835" dy="20">operator-()</tspan><tspan x="835" dy="20">operator*()</tspan><tspan x="835" dy="20">operator-&gt;()</tspan><tspan x="835" dy="20">operator[]()</tspan><tspan x="835" dy="20">GenericMemberIterator()</tspan><tspan x="835" dy="20">GenericMemberIterator()</tspan><tspan x="835" dy="20">GenericMemberIterator()</tspan><tspan x="835" dy="20">GenericMemberIterator()</tspan><tspan x="835" dy="20">operator=()</tspan><tspan x="835" dy="20">GenericMemberIterator()</tspan><tspan x="835" dy="20">GenericMemberIterator()</tspan><tspan x="835" dy="20">operator=()</tspan><tspan x="835" dy="20">value_type</tspan><tspan x="835" dy="20">pointer</tspan><tspan x="835" dy="20">reference</tspan><tspan x="835" dy="20">difference_type</tspan><tspan x="835" dy="20">iterator_category</tspan><tspan x="835" dy="20">Pointer</tspan><tspan x="835" dy="20">Reference</tspan><tspan x="835" dy="20">DifferenceType</tspan><tspan x="835" dy="20">operator++()</tspan><tspan x="835" dy="20">operator--()</tspan><tspan x="835" dy="20">operator++()</tspan><tspan x="835" dy="20">operator--()</tspan><tspan x="835" dy="20">operator++()</tspan><tspan x="835" dy="20">operator++()</tspan><tspan x="835" dy="20">operator--()</tspan><tspan x="835" dy="20">operator--()</tspan><tspan x="835" dy="20">operator+()</tspan><tspan x="835" dy="20">operator-()</tspan><tspan x="835" dy="20">operator+=()</tspan><tspan x="835" dy="20">operator-=()</tspan><tspan x="835" dy="20">operator+()</tspan><tspan x="835" dy="20">operator-()</tspan><tspan x="835" dy="20">operator+=()</tspan><tspan x="835" dy="20">operator-=()</tspan><tspan x="835" dy="20">operator==()</tspan><tspan x="835" dy="20">operator!=()</tspan><tspan x="835" dy="20">operator&lt;=()</tspan><tspan x="835" dy="20">operator&gt;=()</tspan><tspan x="835" dy="20">operator&lt;()</tspan><tspan x="835" dy="20">operator&gt;()</tspan><tspan x="835" dy="20">operator==()</tspan><tspan x="835" dy="20">operator!=()</tspan><tspan x="835" dy="20">operator&lt;=()</tspan><tspan x="835" dy="20">operator&gt;=()</tspan><tspan x="835" dy="20">operator&lt;()</tspan><tspan x="835" dy="20">operator&gt;()</tspan></text>
</g>

<!-- GenericMemberIterator< true, typename ValueT::EncodingType, typename ValueT::AllocatorType > -->
<g id="node-true-valuet">
<rect class="box" x="1011.7" y="1057" width="172.3" height="1729"/>
<path class="sep" d="M1011.7,1124H1184M1011.7,1144H1184"/>
<text class="t" x="1019.3" y="1073.5">GenericMemberIterator</text>
<text class="t" x="1019.3" y="1088.5">&lt; true, typename ValueT</text>
<text class="t" x="1019.3" y="1103">::EncodingType, typename</text>
<text class="t c" x="1099" y="1117.5">ValueT::AllocatorType &gt;</text>
<text class="t c" y="1158"><tspan x="1021.3">+</tspan><tspan x="1021.3" dy="20">+</tspan><tspan x="1021.3" dy="20">+</tspan><tspan x="1021.3" dy="20">+</tspan><tspan x="1021.3" dy="20">+</tspan><tspan x="1021.3" dy="20">+</tspan><tspan x="1021.3" dy="20">+</tspan><tspan x="1021.3" dy="20">+</tspan><tspan x="1021.3" dy="20">+</tspan><tspan x="1021.3" dy="20">+</tspan><tspan x="1021.3" dy="20">+</tspan><tspan x="1021.3" dy="20">+</tspan><tspan x="1021.3" dy="20">+</tspan><tspan x="1021.3" dy="20">+</tspan><tspan x="1021.3" dy="20">+</tspan><tspan x="1021.3" dy="20">+</tspan><tspan x="1021.3" dy="20">+</tspan><tspan x="1021.3" dy="20">+</tspan><tspan x="1021.3" dy="20">+</tspan><tspan x="1021.3" dy="20">+</tspan><tspan x="1021.3" dy="20">+</tspan><tspan x="1021.3" dy="20">+</tspan><tspan x="1021.3" dy="20">+</tspan><tspan x="1021.3" dy="20">+</tspan><tspan x="1021.3" dy="20">+</tspan><tspan x="1021.3" dy="20">+</tspan><tspan x="1021.3" dy="20">+</tspan><tspan x="1021.3" dy="20">+</tspan><tspan x="1021" dy="20">*</tspan><tspan x="1021" dy="20">*</tspan><tspan x="1021" dy="20">*</tspan><tspan x="1021" dy="20">*</tspan><tspan x="1021" dy="20">*</tspan><tspan x="1021" dy="20">*</tspan><tspan x="1021" dy="20">*</tspan><tspan x="1021" dy="20">*</tspan><tspan x="1021" dy="20">*</tspan><tspan x="1021" dy="20">*</tspan><tspan x="1021" dy="20">*</tspan><tspan x="1021" dy="20">*</tspan><tspan x="1021" dy="20">*</tspan><tspan x="1021" dy="20">*</tspan><tspan x="1021" dy="20">*</tspan><tspan x="1021" dy="20">*</tspan><tspan x="1021" dy="20">*</tspan><tspan x="1021" dy="20">*</tspan><tspan x="1021" dy="20">*</tspan><tspan x="1021" dy="20">*</tspan><tspan x="1021" dy="20">*</tspan><tspan x="1021" dy="20">*</tspan><tspan x="1021" dy="20">*</tspan><tspan x="1021" dy="20">*</tspan><tspan x="1021" dy="20">*</tspan><tspan x="1021" dy="20">*</tspan><tspan x="1021" dy="20">*</tspan><tspan x="1021" dy="20">*</tspan><tspan x="1021" dy="20">*</tspan><tspan x="1021" dy="20">*</tspan><tspan x="1021" dy="20">*</tspan><tspan x="1021" dy="20">*</tspan><tspan x="1021" dy="20">*</tspan><tspan x="1021" dy="20">*</tspan><tspan x="1021" dy="20">*</tspan><tspan x="1021" dy="20">*</tspan><tspan x="1021" dy="20">*</tspan><tspan x="1021" dy="20">*</tspan><tspan x="1021" dy="20">*</tspan><tspan x="1021" dy="20">*</tspan><tspan x="1021" dy="20">*</tspan><tspan x="1021" dy="20">*</tspan><tspan x="1021" dy="20">*</tspan><tspan x="1021" dy="20">*</tspan><tspan x="1021" dy="20">*</tspan><tspan x="1021" dy="20">*</tspan><tspan x="1021" dy="20">*</tspan><tspan x="1021" dy="20">*</tspan><tspan x="1021" dy="20">*</tspan><tspan x="1021" dy="20">*</tspan><tspan x="1021" dy="20">*</tspan><tspan x="1021" dy="20">*</tspan><tspan x="1021" dy="20">*</tspan><tspan x="1021" dy="20">*</tspan></text>
<text class="t" y="1158"><tspan x="1031">operator++()</tspan><tspan x="1031" dy="20">operator--()</tspan><tspan x="1031" dy="20">operator++()</tspan><tspan x="1031" dy="20">operator--()</tspan><tspan x="1031" dy="20">operator++()</tspan><tspan x="1031" dy="20">operator++()</tspan><tspan x="1031" dy="20">operator--()</tspan><tspan x="1031" dy="20">operator--()</tspan><tspan x="1031" dy="20">operator+()</tspan><tspan x="1031" dy="20">operator-()</tspan><tspan x="1031" dy="20">operator+=()</tspan><tspan x="1031" dy="20">operator-=()</tspan><tspan x="1031" dy="20">operator+()</tspan><tspan x="1031" dy="20">operator-()</tspan><tspan x="1031" dy="20">operator+=()</tspan><tspan x="1031" dy="20">operator-=()</tspan><tspan x="1031" dy="20">operator==()</tspan><tspan x="1031" dy="20">operator!=()</tspan><tspan x="1031" dy="20">operator&lt;=()</tspan><tspan x="1031" dy="20">operator&gt;=()</tspan><tspan x="1031" dy="20">operator&lt;()</tspan><tspan x="1031" dy="20">operator&gt;()</tspan><tspan x="1031" dy="20">operator==()</tspan><tspan x="1031" dy="20">operator!=()</tspan><tspan x="1031" dy="20">operator&lt;=()</tspan><tspan x="1031" dy="20">operator&gt;=()</tspan><tspan x="1031" dy="20">operator&lt;()</tspan><tspan x="1031" dy="20">operator&gt;()</tspan><tspan x="1031" dy="20">ptr_</tspan><tspan x="1031" dy="20">ptr_</tspan><tspan x="1031" dy="20">operator*()</tspan><tspan x="1031" dy="20">operator-&gt;()</tspan><tspan x="1031" dy="20">operator[]()</tspan><tspan x="1031" dy="20">operator-()</tspan><tspan x="1031" dy="20">operator-()</tspan><tspan x="1031" dy="20">operator*()</tspan><tspan x="1031" dy="20">operator-&gt;()</tspan><tspan x="1031" dy="20">operator[]()</tspan><tspan x="1031" dy="20">GenericMemberIterator()</tspan><tspan x="1031" dy="20">GenericMemberIterator()</tspan><tspan x="1031" dy="20">GenericMemberIterator()</tspan><tspan x="1031" dy="20">GenericMemberIterator()</tspan><tspan x="1031" dy="20">operator=()</tspan><tspan x="1031" dy="20">GenericMemberIterator()</tspan><tspan x="1031" dy="20">GenericMemberIterator()</tspan><tspan x="1031" dy="20">operator=()</tspan><tspan x="1031" dy="20">value_type</tspan><tspan x="1031" dy="20">pointer</tspan><tspan x="1031" dy="20">reference</tspan><tspan x="1031" dy="20">difference_type</tspan><tspan x="1031" dy="20">iterator_category</tspan><tspan x="1031" dy="20">Pointer</tspan><tspan x="1031" dy="20">Reference</tspan><tspan x="1031" dy="20">DifferenceType</tspan><tspan x="1031" dy="20">operator++()</tspan><tspan x="1031" dy="20">operator--()</tspan><tspan x="1031" dy="20">operator++()</tspan><tspan x="1031" dy="20">operator--()</tspan><tspan x="1031" dy="20">operator++()</tspan><tspan x="1031" dy="20">operator++()</tspan><tspan x="1031" dy="20">operator--()</tspan><tspan x="1031" dy="20">operator--()</tspan><tspan x="1031" dy="20">operator+()</tspan><tspan x="1031" dy="20">operator-()</tspan><tspan x="1031" dy="20">operator+=()</tspan><tspan x="1031" dy="20">operator-=()</tspan><tspan x="1031" dy="20">operator+()</tspan><tspan x="1031" dy="20">operator-()</tspan><tspan x="1031" dy="20">operator+=()</tspan><tspan x="1031" dy="20">operator-=()</tspan><tspan x="1031" dy="20">operator==()</tspan><tspan x="1031" dy="20">operator!=()</tspan><tspan x="1031" dy="20">operator&lt;=()</tspan><tspan x="1031" dy="20">operator&gt;=()</tspan><tspan x="1031" dy="20">operator&lt;()</tspan><tspan x="1031" dy="20">operator&gt;()</tspan><tspan x="1031" dy="20">operator==()</tspan><tspan x="1031" dy="20">operator!=()</tspan><tspan x="1031" dy="20">operator&lt;=()</tspan><tspan x="1031" dy="20">operator&gt;=()</tspan><tspan x="1031" dy="20">operator&lt;()</tspan><tspan x="1031" dy="20">operator&gt;()</tspan></text>
</g>

<!-- template instantiation edges, arrowheads at the base template -->
<g id="connectors">
<path class="e" d="M185,1102C270,880 414.5,670 509.5,583" marker-end="url(#ah)"/>
<path class="e" d="M399.5,1110C428.4,990 464.5,825 509.5,735" marker-end="url(#ah)"/>
<path class="e" d="M553.3,1071.7L559.7,965.5" marker-end="url(#ah)"/>
<path class="e" d="M682.5,1071.7L674.4,965.5" marker-end="url(#ah)"/>
<path class="e" d="M860,1057C825.7,927 768,775 705.5,651" marker-end="url(#ah)"/>
<path class="e" d="M1042.3,1057C990,880 860,730 705.5,571" marker-end="url(#ah)"/>
<g id="edge-labels">
<text class="lbl" x="312.4" y="1015">&lt; true, Encoding, Allocator &gt;</text>
<text class="lbl" x="484" y="1007">&lt; false, Encoding,</text>
<text class="lbl" x="484" y="1022">Allocator &gt;</text>
<text class="lbl" x="616.5" y="1007">&lt; false, Encoding,</text>
<text class="lbl" x="619.6" y="1022">Allocator &gt;::Iterator</text>
<text class="lbl" x="760" y="1007">&lt; true, Encoding, Allocator</text>
<text class="lbl" x="760" y="1022">&gt;::Iterator</text>
<text class="lbl" x="932.5" y="1000">&lt; Const, typename ValueT</text>
<text class="lbl" x="929" y="1015">::EncodingType, typename</text>
<text class="lbl" x="933.5" y="1029">ValueT::AllocatorType &gt;</text>
<text class="lbl" x="1102.5" y="1000">&lt; true, typename ValueT</text>
<text class="lbl" x="1105.6" y="1015">::EncodingType, typename</text>
<text class="lbl" x="1107.2" y="1029">ValueT::AllocatorType &gt;</text>
</g>
</g>
</svg>
